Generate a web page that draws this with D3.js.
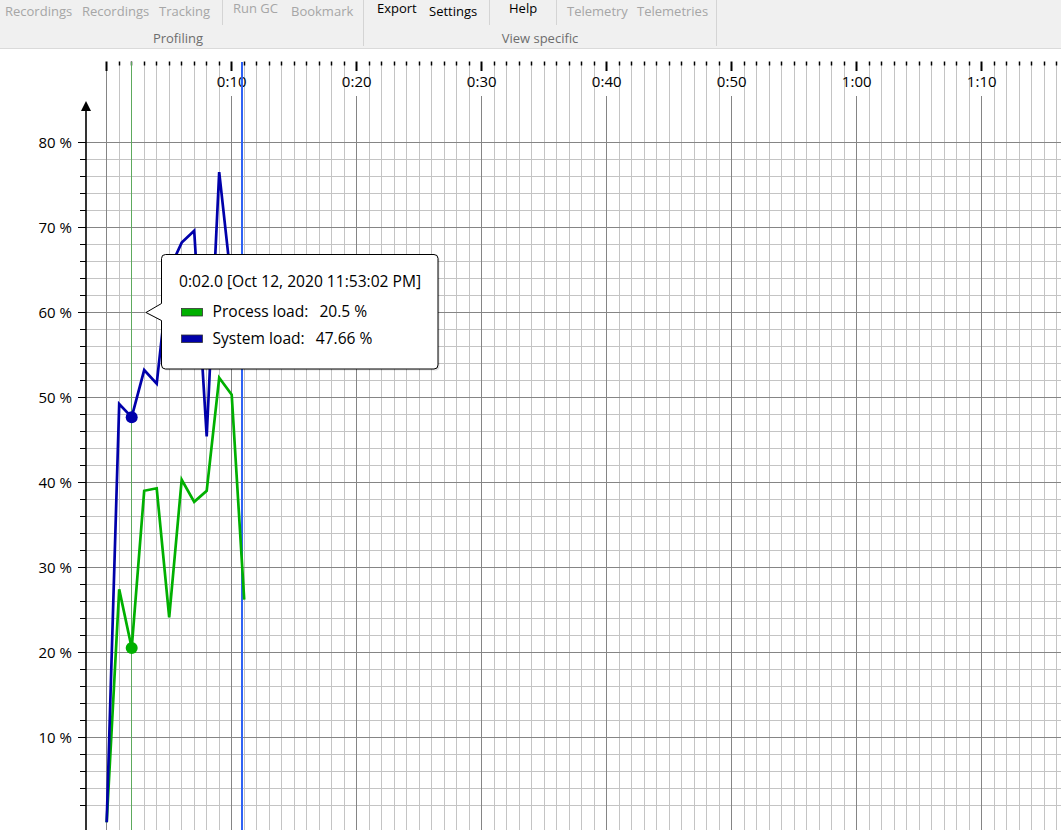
<!DOCTYPE html>
<html>
<head>
<meta charset="utf-8">
<script src="https://cdn.jsdelivr.net/npm/d3@7/dist/d3.min.js"></script>
<style>
  html, body { margin: 0; padding: 0; background: #fff; }
  svg { display: block; }
  text { font-family: "Open Sans", "Liberation Sans", Arial, sans-serif; }
</style>
</head>
<body>
<svg id="chart" width="1061" height="830"></svg>
<script>
// ---- data ----
const times = [0, 1, 2, 3, 4, 5, 6, 7, 8, 9, 10, 11];              // seconds
const processLoad = [0, 27.4, 20.5, 39.0, 39.3, 24.1, 40.3, 37.7, 39.0, 52.3, 50.3, 26.2]; // %
const systemLoad  = [0, 49.2, 47.66, 53.2, 51.6, 65.0, 68.2, 69.6, 45.4, 76.5, 63.1, 58.0]; // %
const seriesNames = ["Process load", "System load"];
const seriesColors = ["#00b000", "#0000aa"];
const yTickValues = [10, 20, 30, 40, 50, 60, 70, 80];
const xTickLabels = ["0:10", "0:20", "0:30", "0:40", "0:50", "1:00", "1:10"];
const xTickSeconds = [10, 20, 30, 40, 50, 60, 70];
const hoverIndex = 2;
const cursorTime = 10.85;
const tooltipHeader = "0:02.0 [Oct 12, 2020 11:53:02 PM]";

// toolbar items: [label, x, baseline, enabled]
const toolbarItems = [
  ["Recordings", 5, 16, false], ["Recordings", 82, 16, false], ["Tracking", 159, 16, false],
  ["Run GC", 233, 13, false], ["Bookmark", 291, 16, false],
  ["Export", 377, 13, true], ["Settings", 429, 16, true], ["Help", 509, 13, true],
  ["Telemetry", 567, 16, false], ["Telemetries", 637, 16, false]
];
const toolbarGroups = [["Profiling", 178], ["View specific", 540]];
const toolbarSeps = [[222, 25], [363, 46], [489, 25], [556, 25], [716, 46]];

// ---- drawing ----
const svg = d3.select("#chart");
const W = 1061, H = 830;

// toolbar
const tb = svg.append("g");
tb.append("rect").attr("x", 0).attr("y", 0).attr("width", W).attr("height", 48).attr("fill", "#f0f0f0");
tb.append("line").attr("x1", 0).attr("x2", W).attr("y1", 48.5).attr("y2", 48.5).attr("stroke", "#dadada");
tb.selectAll("line.sep").data(toolbarSeps).enter().append("line")
  .attr("class", "sep").attr("x1", d => d[0] + 0.5).attr("x2", d => d[0] + 0.5)
  .attr("y1", 0).attr("y2", d => d[1]).attr("stroke", "#d4d4d4");
tb.selectAll("text.item").data(toolbarItems).enter().append("text")
  .attr("class", "item").attr("x", d => d[1]).attr("y", d => d[2])
  .attr("font-size", 13).attr("fill", d => d[3] ? "#000" : "#a6a6a6").text(d => d[0]);
tb.selectAll("text.grp").data(toolbarGroups).enter().append("text")
  .attr("class", "grp").attr("x", d => d[1]).attr("y", 43).attr("text-anchor", "middle")
  .attr("font-size", 13).attr("fill", "#6d6d6d").text(d => d[0]);

// scales
const x = d3.scaleLinear().domain([0, 70]).range([106.7, 981.7]);
const y = d3.scaleLinear().domain([0, 80]).range([822.3, 142.3]);
const maxT = Math.floor(x.invert(W));
const px = v => Math.floor(v) + 0.5;

// grid
const grid = svg.append("g");
const allSec = d3.range(0, maxT + 1);
const minorSec = allSec.filter(t => t % 10 !== 0);
const allPct = d3.range(2, 81, 2);
const minorPct = allPct.filter(v => v % 10 !== 0);

grid.selectAll("line.vmin").data(minorSec).enter().append("line")
  .attr("x1", d => px(x(d))).attr("x2", d => px(x(d)))
  .attr("y1", 65).attr("y2", H).attr("stroke", "#c4c4c4");
grid.selectAll("line.hmin").data(minorPct).enter().append("line")
  .attr("x1", 86).attr("x2", W).attr("y1", d => px(y(d))).attr("y2", d => px(y(d)))
  .attr("stroke", "#c4c4c4");
grid.selectAll("line.hmaj").data(yTickValues).enter().append("line")
  .attr("x1", 86).attr("x2", W).attr("y1", d => px(y(d))).attr("y2", d => px(y(d)))
  .attr("stroke", "#858585");
grid.selectAll("line.vmaj").data([0].concat(xTickSeconds)).enter().append("line")
  .attr("x1", d => px(x(d))).attr("x2", d => px(x(d)))
  .attr("y1", d => d === 0 ? 70 : 96).attr("y2", H).attr("stroke", "#858585");

// top axis ticks & labels
const topAxis = svg.append("g");
topAxis.selectAll("line.tmin").data(allSec).enter().append("line")
  .attr("x1", d => px(x(d))).attr("x2", d => px(x(d)))
  .attr("y1", 61.5).attr("y2", d => d % 10 === 0 ? 71 : 65.5)
  .attr("stroke", "#000").attr("stroke-width", d => d % 10 === 0 ? 2 : 1.5);
topAxis.selectAll("text").data(xTickSeconds).enter().append("text")
  .attr("x", d => x(d)).attr("y", 87).attr("text-anchor", "middle")
  .attr("font-size", 15).attr("fill", "#000").text((d, i) => xTickLabels[i]);

// left axis
const leftAxis = svg.append("g");
leftAxis.append("line").attr("x1", 86).attr("x2", 86).attr("y1", 108).attr("y2", H)
  .attr("stroke", "#000").attr("stroke-width", 1.6);
leftAxis.append("path").attr("d", "M86,101 L81,111 L91,111 Z").attr("fill", "#000");
leftAxis.selectAll("line.tick").data(allPct).enter().append("line")
  .attr("x1", d => d % 10 === 0 ? 78 : 80).attr("x2", 86)
  .attr("y1", d => px(y(d))).attr("y2", d => px(y(d))).attr("stroke", "#000");
leftAxis.selectAll("text").data(yTickValues).enter().append("text")
  .attr("x", 72).attr("y", d => y(d) + 5.5).attr("text-anchor", "end")
  .attr("font-size", 15).attr("fill", "#000").text(d => d + " %");

// hover line & cursor
svg.append("line").attr("x1", px(x(times[hoverIndex]))).attr("x2", px(x(times[hoverIndex])))
  .attr("y1", 62).attr("y2", H).attr("stroke", "#5daa5d").attr("stroke-width", 1);
svg.append("line").attr("x1", Math.round(x(cursorTime))).attr("x2", Math.round(x(cursorTime)))
  .attr("y1", 62).attr("y2", H).attr("stroke", "#2f62f5").attr("stroke-width", 2);

// series
const series = [processLoad, systemLoad];
const line = d3.line().x((d, i) => x(times[i])).y(d => y(d));
series.forEach((vals, k) => {
  svg.append("path").datum(vals).attr("d", line).attr("fill", "none")
    .attr("stroke", seriesColors[k]).attr("stroke-width", 2.7).attr("stroke-linejoin", "miter");
});
series.forEach((vals, k) => {
  svg.append("circle").attr("cx", x(times[hoverIndex])).attr("cy", y(vals[hoverIndex]))
    .attr("r", 6).attr("fill", seriesColors[k]);
});

// tooltip
const tt = svg.append("g");
const bx = 161.5, by = 254.5, bw = 276.5, bh = 114.5, r = 4, tipY = 312.5;
const tp = `M${bx + r},${by} H${bx + bw - r} Q${bx + bw},${by} ${bx + bw},${by + r}
 V${by + bh - r} Q${bx + bw},${by + bh} ${bx + bw - r},${by + bh}
 H${bx + r} Q${bx},${by + bh} ${bx},${by + bh - r}
 V${tipY + 8} L146,${tipY} L${bx},${tipY - 9} V${by + r} Q${bx},${by} ${bx + r},${by} Z`;
tt.append("path").attr("d", tp).attr("fill", "#000").attr("opacity", 0.12).attr("transform", "translate(1.5,1.5)");
tt.append("path").attr("d", tp).attr("fill", "#fff").attr("stroke", "#000").attr("stroke-width", 1);
tt.append("text").attr("x", 179).attr("y", 287).attr("font-size", 15.6).attr("fill", "#000").text(tooltipHeader);
const rows = [[seriesNames[0], processLoad[hoverIndex] + " %"], [seriesNames[1], systemLoad[hoverIndex] + " %"]];
rows.forEach((row, i) => {
  const ry = 317 + i * 26.5;
  tt.append("rect").attr("x", 181.5).attr("y", ry - 8.5).attr("width", 21).attr("height", 7.5)
    .attr("fill", seriesColors[i]).attr("stroke", "#333").attr("stroke-width", 0.8);
  const t = tt.append("text").attr("x", 212.5).attr("y", ry).attr("font-size", 15.6).attr("fill", "#000");
  t.append("tspan").text(row[0] + ":");
  t.append("tspan").attr("dx", 11).text(row[1]);
});
</script>
</body>
</html>
